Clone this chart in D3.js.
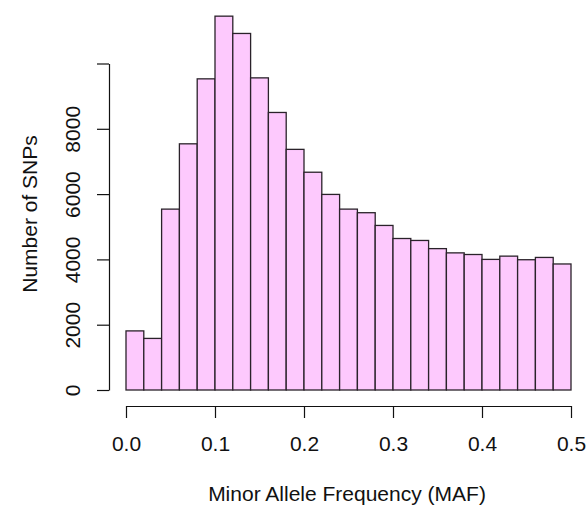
<!DOCTYPE html>
<html>
<head>
<meta charset="utf-8">
<script src="https://cdn.jsdelivr.net/npm/d3@7"></script>
<style>
  body { margin: 0; background: #fff; }
  text { font-family: "Liberation Sans", Arial, sans-serif; fill: #111; }
</style>
</head>
<body>
<div class="canvas"></div>
<script>
// histogram bins (MAF, width 0.02) and counts
const binStarts = [0.00, 0.02, 0.04, 0.06, 0.08, 0.10, 0.12, 0.14, 0.16, 0.18,
                   0.20, 0.22, 0.24, 0.26, 0.28, 0.30, 0.32, 0.34, 0.36, 0.38,
                   0.40, 0.42, 0.44, 0.46, 0.48];
const counts = [1810, 1580, 5540, 7540, 9530, 11450, 10920, 9560, 8500, 7370,
                6670, 5990, 5540, 5430, 5040, 4640, 4580, 4330, 4200, 4150,
                4000, 4100, 3990, 4060, 3860];
const binWidth = 0.02;
const xTicks = [0, 0.1, 0.2, 0.3, 0.4, 0.5];
const yTicks = [0, 2000, 4000, 6000, 8000, 10000];
// R leaves the top label out (no room)
const yLabels = ["0", "2000", "4000", "6000", "8000", ""];

const dims = { width: 587, height: 505 };

const svg = d3.select(".canvas")
    .append("svg")
    .attr("width", dims.width)
    .attr("height", dims.height);

const x = d3.scaleLinear().domain([0, 0.5]).range([126, 571]);
const y = d3.scaleLinear().domain([0, 10000]).range([390, 63.5]);

const data = binStarts.map((b, i) => ({ x0: b, x1: b + binWidth, n: counts[i] }));

svg.append("g")
    .selectAll("rect")
    .data(data)
    .enter()
    .append("rect")
    .attr("x", d => x(d.x0))
    .attr("width", d => x(d.x1) - x(d.x0))
    .attr("y", d => y(d.n))
    .attr("height", d => y(0) - y(d.n))
    .attr("fill", "#fdc9fd")
    .attr("stroke", "#2a222a")
    .attr("stroke-width", 1.3);

// x axis (R style: line spans first to last tick)
const xAxis = svg.append("g")
    .attr("transform", "translate(0,406)")
    .call(d3.axisBottom(x).tickValues(xTicks).tickFormat(d3.format(".1f"))
        .tickSize(12).tickSizeOuter(0));
xAxis.select(".domain").attr("stroke", "#111").attr("stroke-width", 1.2);
xAxis.selectAll(".tick line").attr("stroke", "#111").attr("stroke-width", 1.2);
xAxis.selectAll(".tick text")
    .attr("y", 0).attr("dy", 0)
    .attr("transform", "translate(0,45)")
    .style("font-size", "21px")
    .style("font-family", "Liberation Sans, Arial, sans-serif")
    .attr("fill", "#111");

// y axis with rotated labels
const yAxis = svg.append("g")
    .attr("transform", "translate(109,0)")
    .call(d3.axisLeft(y).tickValues(yTicks).tickFormat((d, i) => yLabels[i])
        .tickSize(12).tickSizeOuter(0));
yAxis.select(".domain").attr("stroke", "#111").attr("stroke-width", 1.2);
yAxis.selectAll(".tick line").attr("stroke", "#111").attr("stroke-width", 1.2);
yAxis.selectAll(".tick text")
    .attr("x", 0).attr("dy", 0)
    .attr("text-anchor", "middle")
    .attr("transform", "translate(-29,0) rotate(-90)")
    .style("font-size", "21px")
    .style("font-family", "Liberation Sans, Arial, sans-serif")
    .attr("fill", "#111");

svg.append("text")
    .attr("x", 347)
    .attr("y", 501)
    .attr("text-anchor", "middle")
    .style("font-size", "21px")
    .text("Minor Allele Frequency (MAF)");

svg.append("text")
    .attr("transform", "translate(37,214) rotate(-90)")
    .attr("text-anchor", "middle")
    .style("font-size", "21px")
    .text("Number of SNPs");
</script>
</body>
</html>
